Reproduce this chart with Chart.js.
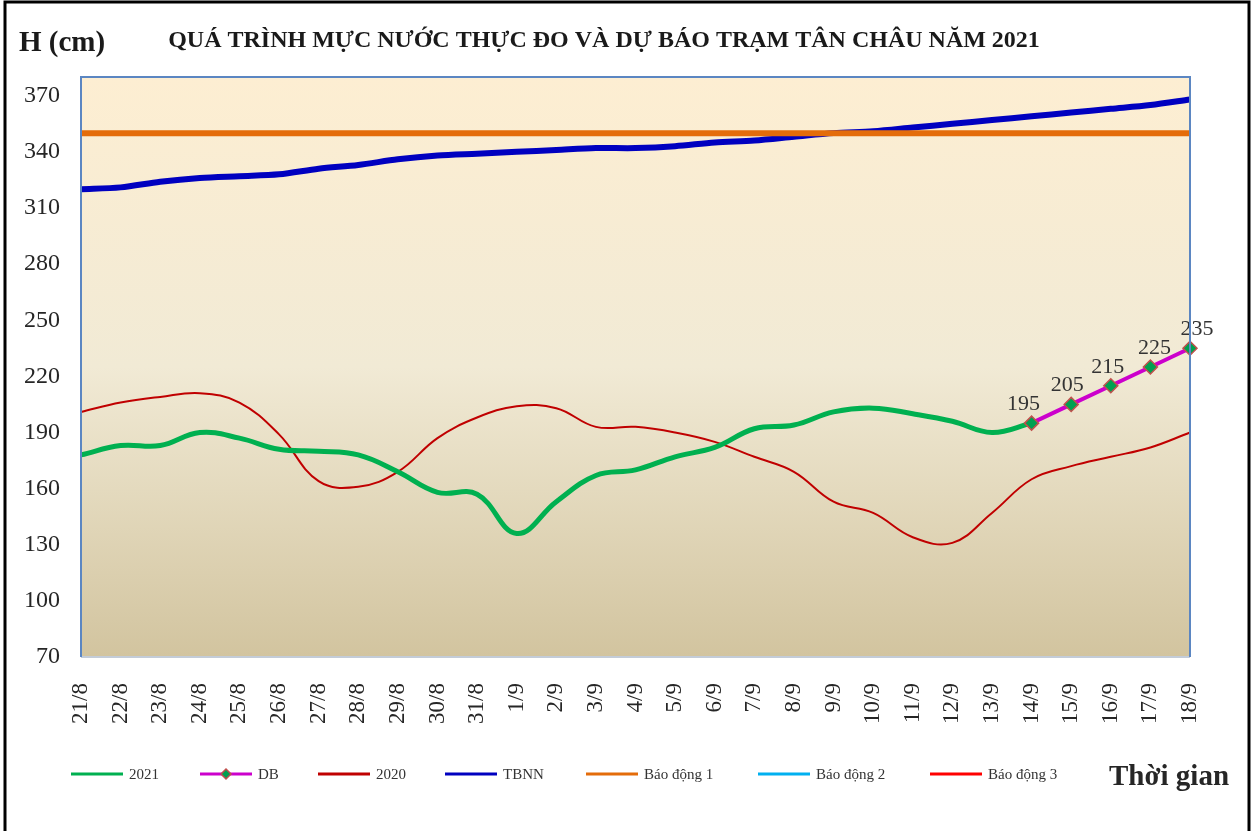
<!DOCTYPE html>
<html>
<head>
    <title>Mực nước Tân Châu 2021</title>
    <script src="https://cdn.jsdelivr.net/npm/chart.js"></script>
    <style>
        body { margin: 0; background: #fff; }
        #wrap { width: 1258px; height: 831px; }
    </style>
</head>
<body>
    <div id="wrap"><canvas id="chart" width="1258" height="831"></canvas></div>

    <script>
    // ngày quan trắc / dự báo
    const days = ['21/8','22/8','23/8','24/8','25/8','26/8','27/8','28/8','29/8','30/8','31/8',
        '1/9','2/9','3/9','4/9','5/9','6/9','7/9','8/9','9/9','10/9','11/9','12/9','13/9',
        '14/9','15/9','16/9','17/9','18/9'];

    // mực nước (cm)
    const h2021 = [178,183,183,190,187,181,180,178,169,158,157,136,153,167,170,177,182,192,194,201,203,200,196,190,195,
        null,null,null,null];
    const hDB = [null,null,null,null,null,null,null,null,null,null,null,null,null,null,null,null,null,null,null,null,
        null,null,null,null,195,205,215,225,235];
    const h2020 = [201,206,209,211,206,189,164,161,169,187,198,204,203,193,193,190,185,177,169,153,147,134,131,147,
        165,172,177,182,190];
    const tbnn = [320,321,324,326,327,328,331,333,336,338,339,340,341,342,342,343,345,346,348,350,351,353,355,357,
        359,361,363,365,368];
    const bd1 = [350,350,350,350,350,350,350,350,350,350,350,350,350,350,350,350,350,350,350,350,350,350,350,350,
        350,350,350,350,350];
    const bd2 = [400,400,400,400,400,400,400,400,400,400,400,400,400,400,400,400,400,400,400,400,400,400,400,400,
        400,400,400,400,400];
    const bd3 = [450,450,450,450,450,450,450,450,450,450,450,450,450,450,450,450,450,450,450,450,450,450,450,450,
        450,450,450,450,450];

    const yTicks = [70,100,130,160,190,220,250,280,310,340,370];

    const serif = '"Liberation Serif", "Times New Roman", serif';

    // nền, khung, tiêu đề
    const framePlugin = {
        id: 'frame',
        beforeDraw(chart) {
            const ctx = chart.ctx, a = chart.chartArea;
            ctx.save();
            ctx.fillStyle = '#fff';
            ctx.fillRect(0, 0, chart.width, chart.height);
            ctx.strokeStyle = '#000';
            ctx.lineWidth = 3;
            ctx.strokeRect(5, 2, 1244, 840);
            const g = ctx.createLinearGradient(0, a.top, 0, a.bottom);
            g.addColorStop(0, '#fdeed2');
            g.addColorStop(0.5, '#f1ead5');
            g.addColorStop(1, '#d2c49f');
            ctx.fillStyle = g;
            ctx.fillRect(a.left, a.top, a.right - a.left, a.bottom - a.top);
            ctx.restore();
        },
        afterDraw(chart) {
            const ctx = chart.ctx, a = chart.chartArea;
            ctx.save();
            ctx.lineWidth = 2;
            ctx.strokeStyle = '#c3ccd8';
            ctx.beginPath();
            ctx.moveTo(a.left, a.bottom); ctx.lineTo(a.right, a.bottom);
            ctx.stroke();
            ctx.strokeStyle = '#5b86c2';
            ctx.beginPath();
            ctx.moveTo(a.left, a.bottom); ctx.lineTo(a.left, a.top);
            ctx.lineTo(a.right, a.top); ctx.lineTo(a.right, a.bottom);
            ctx.stroke();

            ctx.fillStyle = '#1a1a1a';
            ctx.textBaseline = 'alphabetic';
            ctx.textAlign = 'left';
            ctx.font = 'bold 29px ' + serif;
            ctx.fillText('H (cm)', 19, 51);
            ctx.font = 'bold 24px ' + serif;
            ctx.textAlign = 'center';
            ctx.fillText('QUÁ TRÌNH MỰC NƯỚC THỰC ĐO VÀ DỰ BÁO TRẠM TÂN CHÂU NĂM 2021', 604, 47);
            ctx.textAlign = 'left';
            ctx.font = 'bold 29px ' + serif;
            ctx.fillStyle = '#262626';
            ctx.fillText('Thời gian', 1109, 785);
            ctx.restore();
        }
    };

    // nhãn giá trị dự báo
    const dbLabelDx = [-8, -4, -3, 4, 7];
    const dbLabelPlugin = {
        id: 'dbLabels',
        afterDatasetsDraw(chart) {
            const ctx = chart.ctx;
            const meta = chart.getDatasetMeta(1);
            ctx.save();
            ctx.font = '22px ' + serif;
            ctx.fillStyle = '#333';
            ctx.textAlign = 'center';
            ctx.textBaseline = 'alphabetic';
            let k = 0;
            meta.data.forEach((pt, i) => {
                if (hDB[i] == null) return;
                ctx.fillText(String(hDB[i]), pt.x + dbLabelDx[k++], pt.y - 13);
            });
            ctx.restore();
        }
    };

    // chú thích
    const legendX = [71, 200, 318, 445, 586, 758, 930];
    const legendPlugin = {
        id: 'customLegend',
        afterDraw(chart) {
            const ctx = chart.ctx;
            const y = 774;
            ctx.save();
            ctx.font = '15px ' + serif;
            ctx.textBaseline = 'middle';
            ctx.textAlign = 'left';
            chart.data.datasets.forEach((ds, i) => {
                const x = legendX[i];
                ctx.strokeStyle = ds.borderColor;
                ctx.lineWidth = 3;
                ctx.beginPath();
                ctx.moveTo(x, y); ctx.lineTo(x + 52, y);
                ctx.stroke();
                if (ds.pointStyle === 'rectRot') {
                    ctx.fillStyle = ds.pointBackgroundColor;
                    ctx.strokeStyle = ds.pointBorderColor;
                    ctx.lineWidth = 1.5;
                    ctx.beginPath();
                    ctx.moveTo(x + 26, y - 5); ctx.lineTo(x + 31, y);
                    ctx.lineTo(x + 26, y + 5); ctx.lineTo(x + 21, y);
                    ctx.closePath();
                    ctx.fill(); ctx.stroke();
                }
                ctx.fillStyle = '#333';
                ctx.fillText(ds.label, x + 58, y + 1);
            });
            ctx.restore();
        }
    };

    const ctx = document.getElementById('chart').getContext('2d');
    new Chart(ctx, {
        type: 'line',
        data: {
            labels: days,
            datasets: [
                { label: '2021', data: h2021, borderColor: '#00b050', borderWidth: 5, pointRadius: 0, tension: 0.4, order: 1 },
                { label: 'DB', data: hDB, borderColor: '#cc00cc', borderWidth: 4, tension: 0,
                  pointStyle: 'rectRot', pointRadius: 7, pointBackgroundColor: '#00a050',
                  pointBorderColor: '#c0504d', pointBorderWidth: 1.5, order: 0 },
                { label: '2020', data: h2020, borderColor: '#c00000', borderWidth: 2, pointRadius: 0, tension: 0.4, order: 4 },
                { label: 'TBNN', data: tbnn, borderColor: '#0000c0', borderWidth: 6, pointRadius: 0, tension: 0.3, order: 3 },
                { label: 'Báo động 1', data: bd1, borderColor: '#e46c0a', borderWidth: 6, pointRadius: 0, order: 2 },
                { label: 'Báo động 2', data: bd2, borderColor: '#00b0f0', borderWidth: 3, pointRadius: 0, order: 5 },
                { label: 'Báo động 3', data: bd3, borderColor: '#ff0000', borderWidth: 3, pointRadius: 0, order: 6 }
            ]
        },
        options: {
            responsive: false,
            animation: false,
            layout: { padding: { left: 0, right: 68, top: 77, bottom: 0 } },
            plugins: {
                legend: { display: false },
                tooltip: { enabled: false },
                title: { display: false }
            },
            scales: {
                x: {
                    offset: false,
                    grid: { display: false, drawTicks: false },
                    border: { display: false },
                    ticks: {
                        autoSkip: false, minRotation: 90, maxRotation: 90, padding: 26,
                        color: '#262626', font: { family: serif, size: 23 }
                    },
                    afterFit(scale) { scale.height = 174; }
                },
                y: {
                    min: 70, max: 380,
                    grid: { display: false, drawTicks: false },
                    border: { display: false },
                    afterBuildTicks(scale) { scale.ticks = yTicks.map(v => ({ value: v })); },
                    ticks: { padding: 21, color: '#262626', font: { family: serif, size: 24 } },
                    afterFit(scale) { scale.width = 81; }
                }
            }
        },
        plugins: [framePlugin, dbLabelPlugin, legendPlugin]
    });
    </script>
</body>
</html>
